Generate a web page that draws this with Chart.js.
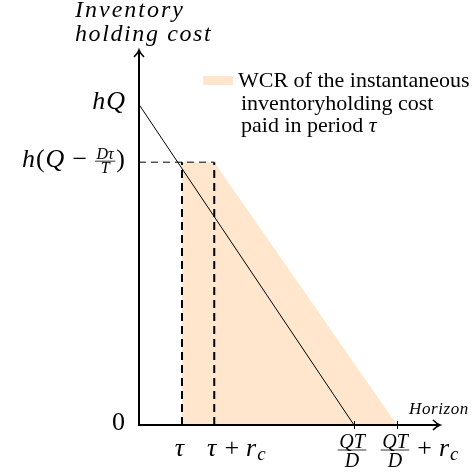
<!DOCTYPE html>
<html>
<head>
<meta charset="utf-8">
<script src="https://cdn.jsdelivr.net/npm/chart.js@4.4.0/dist/chart.umd.min.js"></script>
<style>
  body { margin: 0; background: #fff; }
</style>
</head>
<body>
<canvas id="myChart" width="473" height="476"></canvas>
<script>
// horizon (x) in units where QT/D = 5, cost (y) in units where hQ = 1
const xTickValues = [1, 1.75, 5, 6];
const xTickLabels = [
  ["i:τ"],
  ["i:τ", "op:+", "i:r", "sub:c"],
  ["dfrac:QT/D"],
  ["dfrac:QT/D", "op:+", "i:r", "sub:c"],
];
const yTickValues = [0, 0.82, 1];
const yTickLabels = [
  ["r:0"],
  ["i:h", "r:(", "i:Q", "op:−", "frac:Dτ/T", "r:)"],
  ["i:h", "i:Q"],
];
const axisMax = { x: 7, y: 1.17 };

// holding cost line, from hQ down to zero at QT/D
const costLineX = [0, 5];
const costLineY = [1, 0];

// WCR of the cost paid in period tau
const wcrX = [1, 1, 1.75, 6];
const wcrY = [0, 0.82, 0.82, 0];

// dashed guides
const guideH = { x: [0, 1.75], y: [0.82, 0.82] };
const guideV1 = { x: [1, 1], y: [0, 0.82] };
const guideV2 = { x: [1.75, 1.75], y: [0, 0.82] };

const legendLines = ["WCR of the instantaneous", "inventoryholding cost", "paid in period "];
const yTitle = ["Inventory", "holding cost"];
const xTitle = "Horizon";

const shade = "rgb(255, 230, 204)";
const serif = "'Liberation Serif', 'Times New Roman', serif";
const mathSize = 26;
const fracSize = { frac: 16, dfrac: 20 };
const subSize = 19;

function pts(xs, ys) {
  return xs.map(function (x, i) {
    return { x: x, y: ys[i] };
  });
}

function fontFor(kind, size) {
  if (kind == "r" || kind == "op") return size + "px " + serif;
  return "italic " + size + "px " + serif;
}

function spacing(c, px) {
  if ("letterSpacing" in c) c.letterSpacing = px + "px";
}

function tokenWidth(c, tok) {
  var kind = tok.split(":")[0];
  var txt = tok.slice(kind.length + 1);
  if (kind == "frac" || kind == "dfrac") {
    var p = txt.split("/");
    c.font = fontFor("i", fracSize[kind]);
    return Math.max(c.measureText(p[0]).width, c.measureText(p[1]).width) + 5;
  }
  if (kind == "sub") {
    c.font = fontFor("i", subSize);
    return c.measureText(txt).width;
  }
  c.font = fontFor(kind, mathSize);
  if (kind == "op") return c.measureText(txt).width + 14;
  return c.measureText(txt).width + 1;
}

function drawToken(c, tok, x, base) {
  var kind = tok.split(":")[0];
  var txt = tok.slice(kind.length + 1);
  var w = tokenWidth(c, tok);
  c.textBaseline = "alphabetic";
  c.textAlign = "left";
  if (kind == "frac" || kind == "dfrac") {
    var p = txt.split("/");
    var big = kind == "dfrac";
    var bar = base - 6;
    c.font = fontFor("i", fracSize[kind]);
    c.textAlign = "center";
    c.fillText(p[0], x + w / 2, bar - 2);
    c.fillText(p[1], x + w / 2, bar + (big ? 17 : 12));
    c.beginPath();
    c.lineWidth = 0.8;
    c.moveTo(x + 1, bar);
    c.lineTo(x + w - 1, bar);
    c.stroke();
  } else if (kind == "sub") {
    c.font = fontFor("i", subSize);
    c.fillText(txt, x, base + 4);
  } else if (kind == "op") {
    c.font = fontFor(kind, mathSize);
    c.fillText(txt, x + 7, base);
  } else {
    c.font = fontFor(kind, mathSize);
    c.fillText(txt, x, base);
  }
  return w;
}

function drawMath(c, tokens, x, base, mode) {
  var widths = tokens.map(function (t) {
    return tokenWidth(c, t);
  });
  var total = widths.reduce(function (a, b) {
    return a + b;
  }, 0);
  var start = x;
  if (mode == "right") start = x - total;
  if (mode == "first") start = x - widths[0] / 2;
  tokens.forEach(function (t, i) {
    drawToken(c, t, start, base);
    start += widths[i];
  });
}

const axesPlugin = {
  id: "axesPlugin",
  afterDatasetsDraw: function (chart) {
    const c = chart.ctx;
    const xs = chart.scales.x;
    const ys = chart.scales.y;
    const x0 = xs.getPixelForValue(0);
    const y0 = ys.getPixelForValue(0);
    const xEnd = xs.getPixelForValue(axisMax.x);
    const yEnd = ys.getPixelForValue(axisMax.y);
    c.save();
    c.strokeStyle = "#000";
    c.fillStyle = "#000";
    c.lineCap = "butt";

    // axes
    c.lineWidth = 2;
    c.beginPath();
    c.moveTo(x0 - 1, y0);
    c.lineTo(xEnd - 1, y0);
    c.moveTo(x0, y0 + 1);
    c.lineTo(x0, yEnd + 1);
    c.stroke();

    // arrow heads
    c.lineWidth = 1.6;
    c.beginPath();
    c.moveTo(xEnd - 7, y0 - 5);
    c.quadraticCurveTo(xEnd - 3, y0 - 1, xEnd, y0);
    c.quadraticCurveTo(xEnd - 3, y0 + 1, xEnd - 7, y0 + 5);
    c.moveTo(x0 - 5, yEnd + 7);
    c.quadraticCurveTo(x0 - 1, yEnd + 3, x0, yEnd);
    c.quadraticCurveTo(x0 + 1, yEnd + 3, x0 + 5, yEnd + 7);
    c.stroke();

    // small ticks at QT/D and QT/D + r_c
    c.lineWidth = 1;
    c.beginPath();
    [xTickValues[2], xTickValues[3]].forEach(function (v) {
      var px = Math.round(xs.getPixelForValue(v)) + 0.5;
      c.moveTo(px, y0 - 4);
      c.lineTo(px, y0 + 4);
    });
    c.stroke();

    // tick labels
    xTickValues.forEach(function (v, i) {
      drawMath(c, xTickLabels[i], xs.getPixelForValue(v) - 2, y0 + 31, "first");
    });
    yTickValues.forEach(function (v, i) {
      drawMath(c, yTickLabels[i], x0 - 13, ys.getPixelForValue(v) + 5, "right");
    });

    // axis titles
    c.textAlign = "left";
    c.font = fontFor("i", 24);
    spacing(c, 2);
    c.fillText(yTitle[0], x0 - 64, 17);
    spacing(c, 1.6);
    c.fillText(yTitle[1], x0 - 64, 41);
    c.font = fontFor("i", 17);
    spacing(c, 0.6);
    c.textAlign = "left";
    c.fillText(xTitle, xEnd - 31, y0 - 11);
    spacing(c, 0);

    // legend
    c.fillStyle = shade;
    c.fillRect(203, 76, 30, 9);
    c.fillStyle = "#000";
    c.textAlign = "left";
    c.font = fontFor("r", 22);
    c.fillText(legendLines[0], 238, 87);
    c.fillText(legendLines[1], 241, 110);
    c.fillText(legendLines[2], 241, 132);
    var w = c.measureText(legendLines[2]).width;
    c.font = fontFor("i", 22);
    c.fillText("τ", 241 + w, 132);
    c.restore();
  },
};

const ctx = document.getElementById("myChart").getContext("2d");
const myChart = new Chart(ctx, {
  type: "scatter",
  data: {
    datasets: [
      {
        data: pts(wcrX, wcrY),
        showLine: true,
        fill: "origin",
        backgroundColor: shade,
        borderWidth: 0,
        pointRadius: 0,
        tension: 0,
        order: 10,
      },
      {
        data: pts(guideH.x, guideH.y),
        showLine: true,
        borderColor: "#000",
        borderWidth: 1,
        borderDash: [7, 5],
        pointRadius: 0,
        order: 1,
      },
      {
        data: pts(guideV1.x, guideV1.y),
        showLine: true,
        borderColor: "#000",
        borderWidth: 2,
        borderDash: [8, 5],
        pointRadius: 0,
        order: 1,
      },
      {
        data: pts(guideV2.x, guideV2.y),
        showLine: true,
        borderColor: "#000",
        borderWidth: 2,
        borderDash: [8, 5],
        pointRadius: 0,
        order: 1,
      },
      {
        data: pts(costLineX, costLineY),
        showLine: true,
        borderColor: "#000",
        borderWidth: 1,
        pointRadius: 0,
        order: 0,
      },
    ],
  },
  options: {
    responsive: false,
    animation: false,
    layout: {
      padding: { left: 139, right: 33, top: 50, bottom: 51 },
    },
    plugins: {
      legend: { display: false },
      tooltip: { enabled: false },
    },
    scales: {
      x: { type: "linear", min: 0, max: axisMax.x, display: false },
      y: { type: "linear", min: 0, max: axisMax.y, display: false },
    },
  },
  plugins: [axesPlugin],
});
</script>
</body>
</html>
